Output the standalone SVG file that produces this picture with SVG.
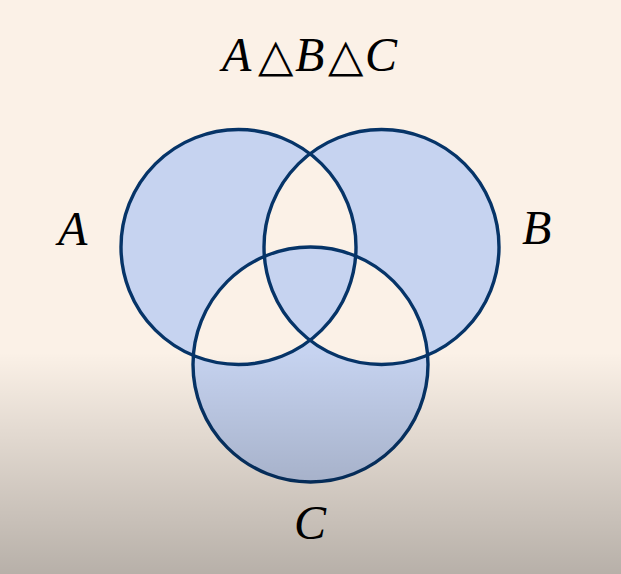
<svg xmlns="http://www.w3.org/2000/svg" width="621" height="574" viewBox="0 0 621 574">
<defs>
<linearGradient id="shade" gradientUnits="userSpaceOnUse" x1="0" y1="352" x2="0" y2="574">
<stop offset="0" stop-color="#000" stop-opacity="0"/>
<stop offset="1" stop-color="#000" stop-opacity="0.27"/>
</linearGradient>
</defs>
<style>
.lbl{font-family:"Liberation Serif","Times New Roman",serif;font-style:italic;font-size:48px;fill:#000}
.op{font-family:"DejaVu Sans",sans-serif;font-size:46px;fill:#000}
.ring{fill:none;stroke:#063468;stroke-width:3.4}
</style>
<rect width="621" height="574" fill="#fbf1e7"/>
<g id="regions">
<path fill="#c6d3f0" fill-rule="evenodd" d="M121,247 a117.5,117.5 0 1,0 235,0 a117.5,117.5 0 1,0 -235,0 Z M264,247 a117.5,117.5 0 1,0 235,0 a117.5,117.5 0 1,0 -235,0 Z M193,364.5 a117.5,117.5 0 1,0 235,0 a117.5,117.5 0 1,0 -235,0 Z"/>
</g>
<g id="setA"><circle class="ring" cx="238.5" cy="247" r="117.5"/></g>
<g id="setB"><circle class="ring" cx="381.5" cy="247" r="117.5"/></g>
<g id="setC"><circle class="ring" cx="310.5" cy="364.5" r="117.5"/></g>
<g id="title">
<text class="lbl" x="222" y="71">A</text>
<text class="op" x="258" y="71">△</text>
<text class="lbl" x="295" y="71">B</text>
<text class="op" x="328" y="71">△</text>
<text class="lbl" x="365" y="71">C</text>
</g>
<g id="labelA"><text class="lbl" x="58" y="245">A</text></g>
<g id="labelB"><text class="lbl" x="522" y="244">B</text></g>
<g id="labelC"><text class="lbl" x="294" y="539">C</text></g>
<rect width="621" height="574" fill="url(#shade)"/>
</svg>
